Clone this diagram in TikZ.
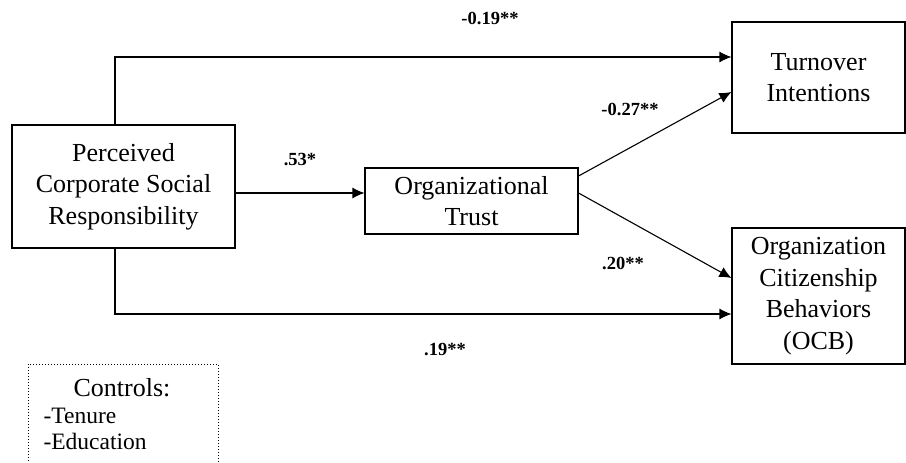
\documentclass[tikz,border=0pt]{standalone}
\usepackage{fontspec}
\setmainfont{Liberation Serif}
\usetikzlibrary{calc, arrows.meta}

\begin{document}
\begin{tikzpicture}[x=1pt,y=-1pt,line width=1.1pt,>={Latex[length=12pt,width=11pt]},
  box/.style={draw,align=center,inner sep=2pt,font=\fontsize{26}{31.5}\selectfont},
  coef/.style={font=\fontsize{18.5}{22}\selectfont\bfseries}]
\useasboundingbox (0,0) rectangle (906,463);
\draw node [box,minimum width=223pt,minimum height=123pt] (PCSR) at (123.5,186.5) {Perceived\\Corporate Social\\Responsibility};
\draw node [box,minimum width=213pt,minimum height=66pt] (OT) at (471.5,201) {Organizational\\Trust};
\draw node [box,minimum width=173pt,minimum height=111pt] (TI) at (818.5,77.5) {Turnover\\Intentions};
\draw node [box,minimum width=173pt,minimum height=136pt] (OCB) at (818.5,296) {Organization\\Citizenship\\Behaviors\\(OCB)};
\draw [->] ([xshift=-8.5pt]PCSR.north) |- ([yshift=20.5pt]TI.west);
\draw [->] ([xshift=-8.5pt]PCSR.south) |- ([yshift=-18pt]OCB.west);
\draw [->] ([yshift=-6.5pt]PCSR.east) coordinate (P1) -- (P1 -| OT.west);
\draw [->] ([yshift=25pt]OT.east) -- ([yshift=-14.5pt]TI.west);
\draw [->] ([yshift=8pt]OT.east) -- ([yshift=18pt]OCB.west);
\node [coef] (C1) at (490,18) {-0.19**};
\node [coef] (C2) at (300,160) {.53*};
\node [coef] (C3) at (630,109) {-0.27**};
\node [coef] (C4) at (623,263) {.20**};
\node [coef] (C5) at (445,350) {.19**};
% controls box, cut at the bottom
\draw [dotted,line width=1pt] (28,470) -- (28,364) -- (218,364) -- (218,470);
\node [font=\fontsize{26}{31}\selectfont] (CT) at (122,388) {Controls:};
\node [anchor=base west,inner sep=0pt,font=\fontsize{23.5}{26}\selectfont] (CT1) at (43,423) {-Tenure};
\node [anchor=base west,inner sep=0pt,font=\fontsize{23.5}{26}\selectfont] (CT2) at (43,449) {-Education};
\end{tikzpicture}
\end{document}
